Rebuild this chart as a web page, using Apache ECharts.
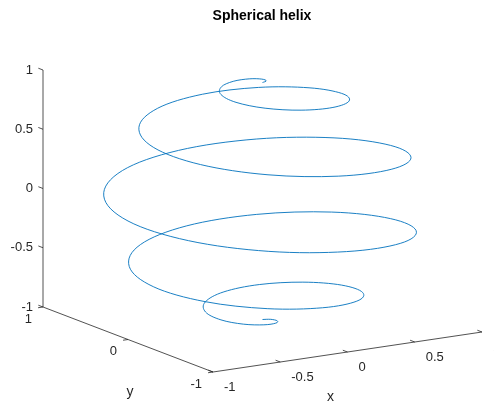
<!DOCTYPE html>
<html>
<head>
<meta charset="utf-8">
<script src="https://cdn.jsdelivr.net/npm/echarts@6/dist/echarts.min.js"></script>
<style>
  html, body { margin: 0; padding: 0; background: #fff; }
  #helixChart { width: 494px; height: 405px; }
</style>
</head>
<body>
<div id="helixChart"></div>
<script>
// helix samples, one every 30 deg of azimuth, from the north pole down to the south pole
const helixX = [0, 0.045, 0.052, 0, -0.104, -0.224, -0.309, -0.310, -0.203, 0, 0.25, 0.472,
  0.588, 0.545, 0.335, 0, -0.372, -0.673, -0.809, -0.726, -0.433, 0, 0.457, 0.809,
  0.951, 0.837, 0.489, 0, -0.497, -0.865, -1, -0.865, -0.497, 0, 0.489, 0.837,
  0.951, 0.809, 0.457, 0, -0.433, -0.726, -0.809, -0.673, -0.372, 0, 0.335, 0.545,
  0.588, 0.472, 0.25, 0, -0.203, -0.310, -0.309, -0.224, -0.104, 0, 0.052, 0.045, 0];
const helixY = [0, 0.026, 0.091, 0.156, 0.180, 0.129, 0, -0.179, -0.352, -0.454, -0.433, -0.272,
  0, 0.315, 0.579, 0.707, 0.644, 0.389, 0, -0.419, -0.75, -0.891, -0.791, -0.467,
  0, 0.483, 0.847, 0.988, 0.861, 0.499, 0, -0.499, -0.861, -0.988, -0.847, -0.483,
  0, 0.467, 0.791, 0.891, 0.75, 0.419, 0, -0.389, -0.644, -0.707, -0.579, -0.315,
  0, 0.272, 0.433, 0.454, 0.352, 0.179, 0, -0.129, -0.180, -0.156, -0.091, -0.026, 0];
const helixZ = [1, 0.999, 0.995, 0.988, 0.978, 0.966, 0.951, 0.934, 0.914, 0.891, 0.866, 0.839,
  0.809, 0.777, 0.743, 0.707, 0.669, 0.629, 0.588, 0.545, 0.5, 0.454, 0.407, 0.358,
  0.309, 0.259, 0.208, 0.156, 0.105, 0.052, 0, -0.052, -0.105, -0.156, -0.208, -0.259,
  -0.309, -0.358, -0.407, -0.454, -0.5, -0.545, -0.588, -0.629, -0.669, -0.707, -0.743, -0.777,
  -0.809, -0.839, -0.866, -0.891, -0.914, -0.934, -0.951, -0.966, -0.978, -0.988, -0.995, -0.999, -1];

// axis limits and ticks
const xLim = [-1, 1];
const yLim = [-1, 1];
const zLim = [-1, 1];
const xTicks = [-1, -0.5, 0, 0.5, 1];
const yTicks = [-1, 0, 1];
const zTicks = [-1, -0.5, 0, 0.5, 1];
const xTickLabels = ['-1', '-0.5', '0', '0.5', '1'];
const yTickLabels = ['-1', '0', '1'];
const zTickLabels = ['-1', '-0.5', '0', '0.5', '1'];

const FONT = '"Liberation Sans", Arial, Helvetica, sans-serif';
const AXIS_COLOR = '#262626';
const LINE_COLOR = '#0072BD';

// screen placement of the (xmin, ymin, zmin) corner and pixel steps per data unit (view az -37.5, el 30)
const view = { ox: 213, oy: 372, ex: [134.5, -20], ey: [-85, -32.5], ez: [0, -118.5] };

function project(p) {
  const dx = p[0] - xLim[0];
  const dy = p[1] - yLim[0];
  const dz = p[2] - zLim[0];
  return [
    view.ox + dx * view.ex[0] + dy * view.ey[0] + dz * view.ez[0],
    view.oy + dx * view.ex[1] + dy * view.ey[1] + dz * view.ez[1],
  ];
}

// unit screen direction of a data-space direction, for tick marks
function screenDir(d) {
  const a = project([xLim[0] + d[0], yLim[0] + d[1], zLim[0] + d[2]]);
  const o = project([xLim[0], yLim[0], zLim[0]]);
  const len = Math.hypot(a[0] - o[0], a[1] - o[1]);
  return [(a[0] - o[0]) / len, (a[1] - o[1]) / len];
}

const axisDefs = [
  {
    name: 'x', ticks: xTicks, labels: xTickLabels,
    at: v => [v, yLim[0], zLim[0]], tickDir: [0, 1, 0],
    labelOffset: [11, 15], align: 'left',
    nameAt: [0, yLim[0], zLim[0]], nameOffset: [-17, 45],
  },
  {
    name: 'y', ticks: yTicks, labels: yTickLabels,
    at: v => [xLim[0], v, zLim[0]], tickDir: [-1, 0, 0],
    labelOffset: [-11, 12], align: 'right',
    nameAt: [xLim[0], 0, zLim[0]], nameOffset: [2, 53],
  },
  {
    name: '', ticks: zTicks, labels: zTickLabels,
    at: v => [xLim[0], yLim[1], v], tickDir: [0, 1, 0],
    labelOffset: [-10, 0], align: 'right',
  },
];

const tickItems = [];
axisDefs.forEach((ax, ai) => {
  ax.ticks.forEach((v, ti) => tickItems.push({ value: [v, ti], axis: ai }));
});

const chart = echarts.init(document.getElementById('helixChart'));
const W = chart.getWidth();
const H = chart.getHeight();

const helixData = helixX.map((x, i) => project([x, helixY[i], helixZ[i]]));
const last = helixData.length - 1;
// cubic handle factor so 30-degree steps follow a round arc
const HANDLE = 0.175;

const axisLineSeries = axisDefs.map(ax => ({
  type: 'line',
  data: [project(ax.at(ax.ticks[0])), project(ax.at(ax.ticks[ax.ticks.length - 1]))],
  symbol: 'none',
  silent: true,
  lineStyle: { color: AXIS_COLOR, width: 0.8 },
  clip: false,
}));

const option = {
  animation: false,
  title: {
    text: 'Spherical helix',
    left: 257,
    top: 4,
    textAlign: 'center',
    textStyle: { fontFamily: FONT, fontSize: 14, fontWeight: 'bold', color: '#000' },
  },
  grid: { left: 0, right: 0, top: 0, bottom: 0 },
  xAxis: { type: 'value', min: 0, max: W, show: false },
  yAxis: { type: 'value', min: 0, max: H, inverse: true, show: false },
  series: [
    ...axisLineSeries,
    {
      type: 'custom',
      coordinateSystem: 'cartesian2d',
      clip: false,
      silent: true,
      data: tickItems,
      renderItem: (params, api) => {
        const item = tickItems[params.dataIndex];
        const ax = axisDefs[item.axis];
        const v = item.value[0];
        const p = api.coord(project(ax.at(v)));
        const d = screenDir(ax.tickDir);
        const children = [
          {
            type: 'line',
            shape: { x1: p[0], y1: p[1], x2: p[0] + d[0] * 5, y2: p[1] + d[1] * 5 },
            style: { stroke: AXIS_COLOR, lineWidth: 0.8 },
          },
          {
            type: 'text',
            x: p[0] + ax.labelOffset[0],
            y: p[1] + ax.labelOffset[1],
            style: {
              text: ax.labels[item.value[1]],
              fill: AXIS_COLOR,
              font: '13px ' + FONT,
              align: ax.align,
              verticalAlign: 'middle',
            },
          },
        ];
        // axis name once per axis, at its first tick
        if (item.value[1] === 0 && ax.name) {
          const n = api.coord(project(ax.nameAt));
          children.push({
            type: 'text',
            x: n[0] + ax.nameOffset[0],
            y: n[1] + ax.nameOffset[1],
            style: {
              text: ax.name,
              fill: AXIS_COLOR,
              font: '14px ' + FONT,
              align: 'center',
              verticalAlign: 'middle',
            },
          });
        }
        return { type: 'group', children };
      },
    },
    {
      // helix drawn as one smooth cubic piece per sample step
      type: 'custom',
      name: 'helix',
      coordinateSystem: 'cartesian2d',
      clip: false,
      silent: true,
      z: 5,
      data: helixData.slice(0, last),
      renderItem: (params, api) => {
        const i = params.dataIndex;
        const p0 = api.coord(helixData[Math.max(i - 1, 0)]);
        const p1 = api.coord(helixData[i]);
        const p2 = api.coord(helixData[i + 1]);
        const p3 = api.coord(helixData[Math.min(i + 2, last)]);
        return {
          type: 'bezierCurve',
          shape: {
            x1: p1[0], y1: p1[1],
            x2: p2[0], y2: p2[1],
            cpx1: p1[0] + (p2[0] - p0[0]) * HANDLE,
            cpy1: p1[1] + (p2[1] - p0[1]) * HANDLE,
            cpx2: p2[0] - (p3[0] - p1[0]) * HANDLE,
            cpy2: p2[1] - (p3[1] - p1[1]) * HANDLE,
          },
          style: { stroke: LINE_COLOR, lineWidth: 0.9, fill: null },
        };
      },
    },
  ],
};

chart.setOption(option);
</script>
</body>
</html>
